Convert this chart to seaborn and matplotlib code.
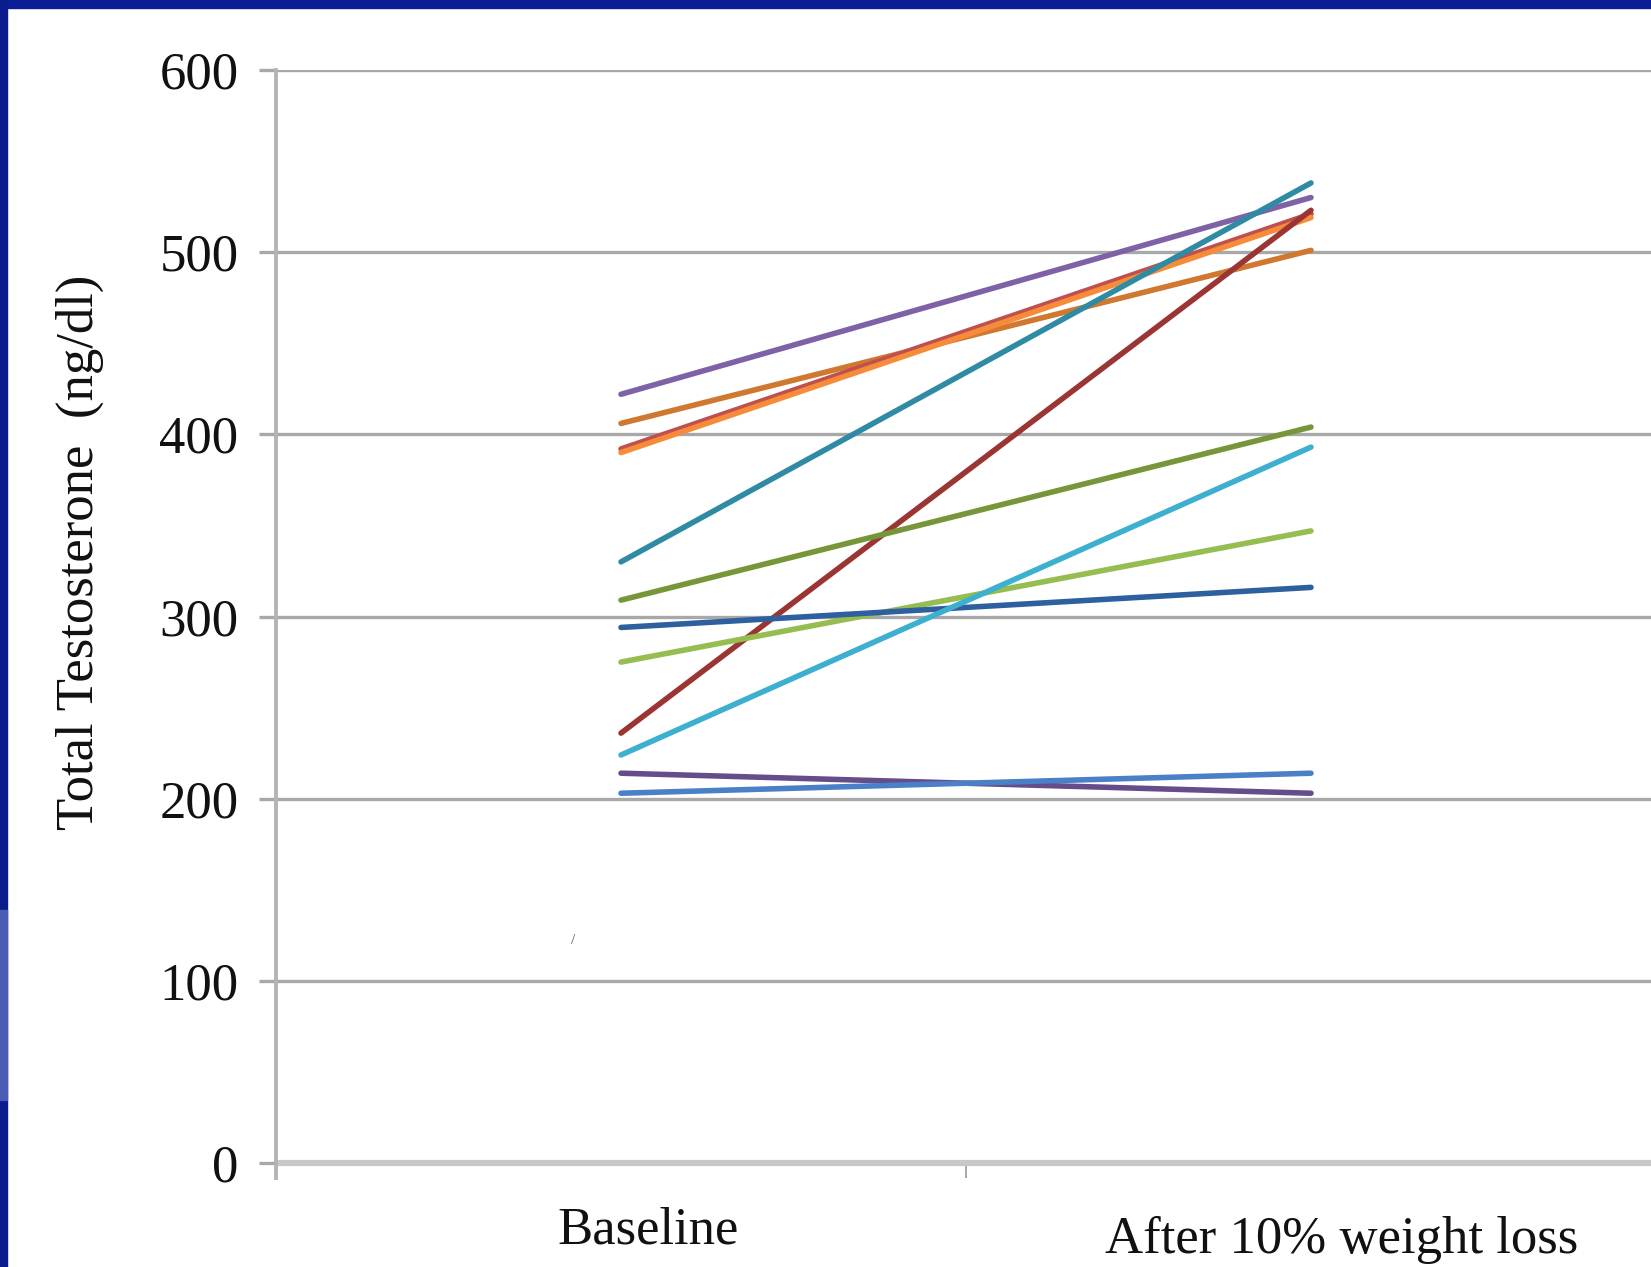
import pandas as pd
import seaborn as sns
import matplotlib.pyplot as plt
from matplotlib.patches import Rectangle
import matplotlib.transforms as mtrans

sns.set_style('white')
plt.rcParams['font.family'] = ['Liberation Serif', 'DejaVu Serif']

# values (ng/dl)
timepoints = ['Baseline', 'After 10% weight loss']
subjects = ['s1', 's2', 's3', 's4', 's5', 's6', 's7', 's8', 's9', 's10', 's11', 's12']
baseline = [422, 406, 392, 390, 330, 236, 309, 275, 294, 224, 214, 203]
after = [530, 501, 521, 519, 538, 523, 404, 347, 316, 393, 203, 214]
line_colors = ['#7f62a6', '#d0782f', '#c0504d', '#f68b3a', '#2f8aa3', '#9b3533',
               '#77963a', '#96bd4f', '#2e5f9e', '#3eb0cf', '#654d8a', '#4a80c8']
yticks = [0, 100, 200, 300, 400, 500, 600]

df = pd.DataFrame({
    'subject': subjects * 2,
    'time': [timepoints[0]] * len(subjects) + [timepoints[1]] * len(subjects),
    'value': baseline + after,
})

W, H = 1651, 1267
fig = plt.figure(figsize=(W / 100, H / 100), dpi=100)
fig.patch.set_facecolor('white')

# blue slide frame (top and left edges)
fig.patches.append(Rectangle((0, 1 - 8 / H), 1, 8 / H, transform=fig.transFigure,
                             color='#0b1e96', zorder=0))
fig.patches.append(Rectangle((0, 0), 7 / W, 1, transform=fig.transFigure,
                             color='#0a1b8c', zorder=0))
fig.patches.append(Rectangle((0, (H - 1100) / H), 7 / W, 190 / H, transform=fig.transFigure,
                             color='#4b5cb5', zorder=0))

# axes: spine at x=276px, y=0 at 1163px, y=600 at 70px
ax = fig.add_axes([276 / W, (H - 1178) / H, (1656 - 276) / W, (1178 - 70) / H])
ax.set_facecolor('white')

sns.lineplot(data=df, x='time', y='value', hue='subject', palette=line_colors,
             hue_order=subjects, sort=False, linewidth=4.0, legend=False, ax=ax,
             zorder=3)

ax.set_xlim(-0.5, 1.5)
ax.set_ylim(-8.2, 600)
ax.set_yticks(yticks)
ax.set_yticklabels([str(v) for v in yticks], fontsize=38, color='#111111')
ax.tick_params(axis='y', length=12, width=2.4, color='#a8a8a8', pad=15, left=True)

ax.set_xticks([0, 1])
ax.set_xticklabels(['', ''])
ax.tick_params(axis='x', which='major', length=0)
ax.set_xticks([0.5], minor=True)
ax.tick_params(axis='x', which='minor', direction='in', length=11, width=1.2,
               color='#999999', bottom=True)

ax.grid(axis='y', color='#a8a8a8', linewidth=2.4, zorder=1)
ax.grid(axis='x', visible=False)
ax.set_axisbelow(True)
zero_line = ax.get_ygridlines()[0]
zero_line.set_color('#c8c8c8')
zero_line.set_linewidth(4.5)

for side in ['top', 'right', 'bottom']:
    ax.spines[side].set_visible(False)
ax.spines['left'].set_color('#b4b4b4')
ax.spines['left'].set_linewidth(2.8)

ax.set_xlabel('')
ax.set_ylabel('Total Testosterone  (ng/dl)', fontsize=38, color='#111111')
ax.yaxis.set_label_coords(-0.125, 0.565)

# category labels sit a little right of the category centres
blend = mtrans.blended_transform_factory(ax.transData, fig.transFigure)
label_offsets = [0.04, 0.045]
label_y = [(H - 1243) / H, (H - 1253) / H]
for i, name in enumerate(timepoints):
    ax.text(i + label_offsets[i], label_y[i], name, transform=blend, ha='center',
            va='baseline', fontsize=38, color='#111111', clip_on=False)

# small stray mark left of the baseline lines
ax.text(-0.07, 122, '/', fontsize=11, color='#555555', ha='center', va='center')

fig.savefig('out.png', dpi=100, facecolor=fig.get_facecolor())
